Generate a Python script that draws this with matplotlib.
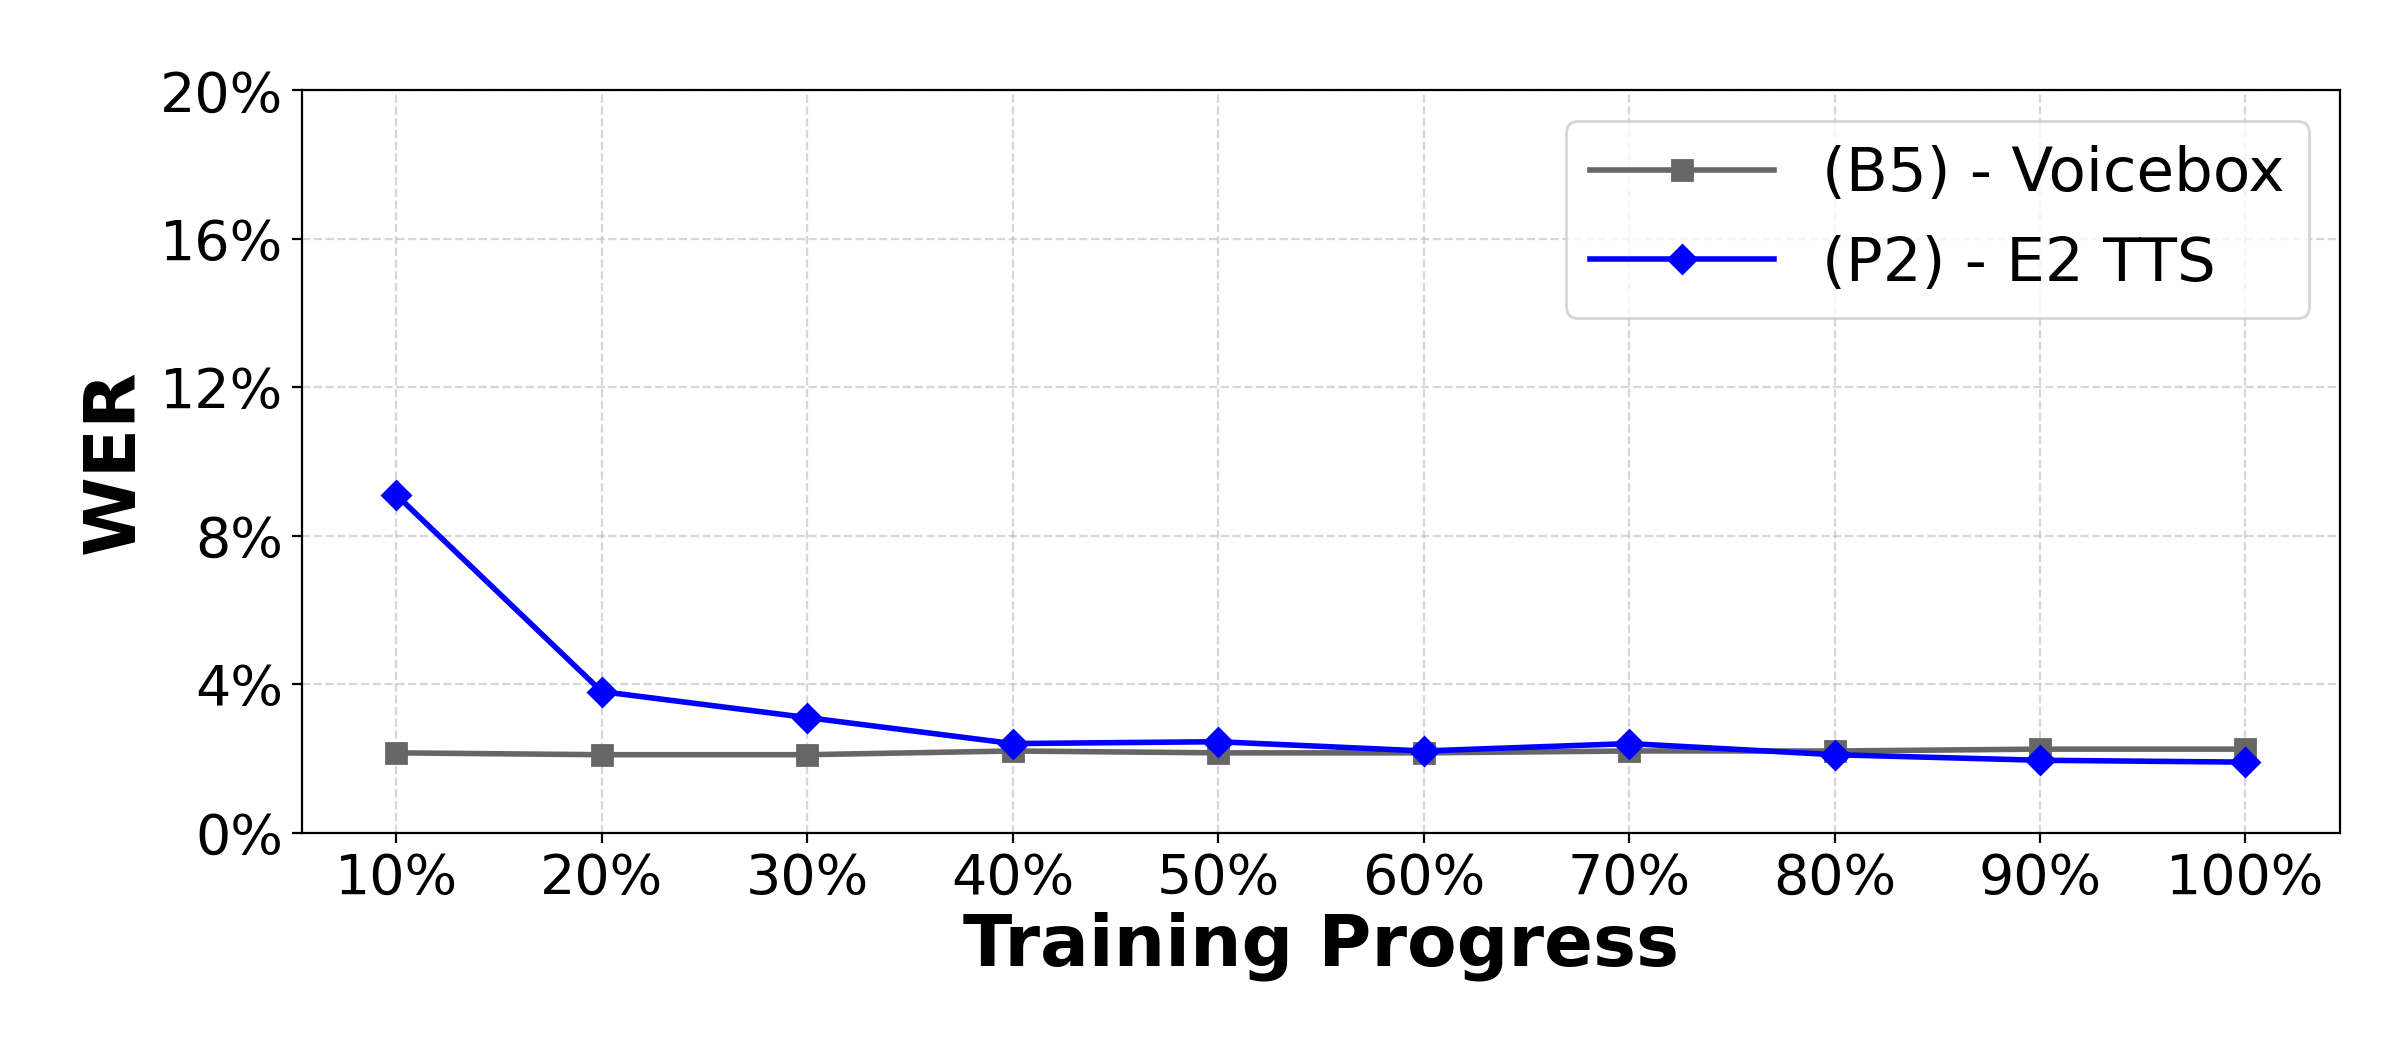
import matplotlib
matplotlib.use("Agg")
import matplotlib.pyplot as plt
from matplotlib.ticker import PercentFormatter

progress = ["10%", "20%", "30%", "40%", "50%", "60%", "70%", "80%", "90%", "100%"]
voicebox = [2.15, 2.1, 2.1, 2.2, 2.15, 2.15, 2.2, 2.2, 2.25, 2.25]
e2tts = [9.1, 3.8, 3.1, 2.4, 2.45, 2.2, 2.4, 2.1, 1.95, 1.9]

fig = plt.figure(figsize=(12, 5.25), dpi=200)
ax = fig.add_axes([0.126, 0.207, 0.849, 0.707])
x = range(len(progress))
ax.plot(x, voicebox, color="#666666", marker="s", markersize=7, linewidth=2, label="(B5) - Voicebox")
ax.plot(x, e2tts, color="blue", marker="D", markersize=7, linewidth=2, label="(P2) - E2 TTS")
ax.set_xticks(list(x))
ax.set_xticklabels(progress)
ax.set_xlim(-0.457, 9.46)
ax.set_ylim(0, 20)
ax.set_yticks([0, 4, 8, 12, 16, 20])
ax.yaxis.set_major_formatter(PercentFormatter(decimals=0))
ax.tick_params(labelsize=20)
ax.grid(True, linestyle="--", alpha=0.5)
ax.set_xlabel("Training Progress", fontsize=26, fontweight="bold", labelpad=2)
ax.set_ylabel("WER", fontsize=26, fontweight="bold")
ax.legend(fontsize=22, loc="upper right", handlelength=3)
fig.savefig("out.png")
